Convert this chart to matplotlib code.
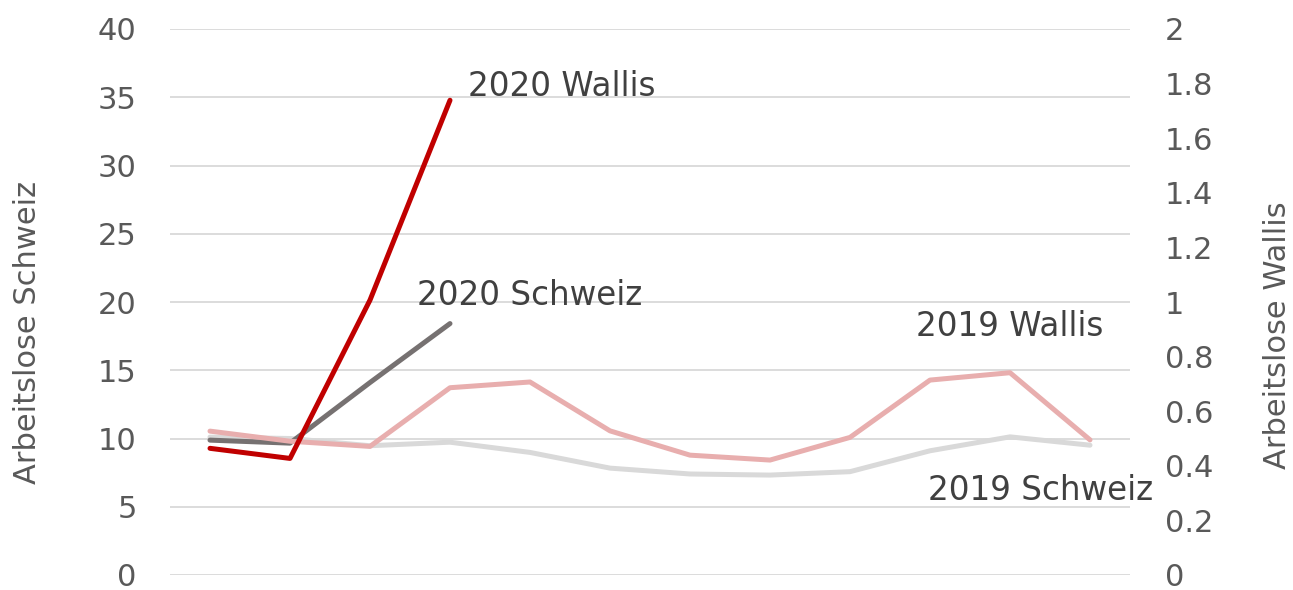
import numpy as np
import matplotlib
matplotlib.use('Agg')
import matplotlib.pyplot as plt

# Monatswerte (Jan..Dez)
months = ['Jan', 'Feb', 'Mär', 'Apr', 'Mai', 'Jun', 'Jul', 'Aug', 'Sep', 'Okt', 'Nov', 'Dez']
schweiz_2019 = [10.1, 10.0, 9.47, 9.73, 8.98, 7.83, 7.4, 7.32, 7.57, 9.1, 10.12, 9.51]
schweiz_2020 = [9.88, 9.66, 14.1, 18.42]
wallis_2019 = [0.527, 0.49, 0.471, 0.686, 0.707, 0.528, 0.439, 0.421, 0.504, 0.714, 0.741, 0.495]
wallis_2020 = [0.464, 0.427, 1.007, 1.739]

left_ticks = [0, 5, 10, 15, 20, 25, 30, 35, 40]
right_ticks = [0, 0.2, 0.4, 0.6, 0.8, 1, 1.2, 1.4, 1.6, 1.8, 2]

txt = '#404040'
tick_col = '#595959'
plt.rcParams['font.family'] = ['DejaVu Sans']

fig = plt.figure(figsize=(12.93, 5.90), dpi=100)
ax = fig.add_axes([170/1293, 15/590, 960/1293, 546/590])
ax2 = ax.twinx()

x = np.arange(len(months))
ax.plot(x, schweiz_2019, color='#D9D9D9', lw=3.6, solid_capstyle='round', zorder=2)
ax.plot(x[:len(schweiz_2020)], schweiz_2020, color='#767171', lw=3.6, solid_capstyle='round', zorder=3)
ax2.plot(x, wallis_2019, color='#E8AEAE', lw=3.6, solid_capstyle='round')
ax2.plot(x[:len(wallis_2020)], wallis_2020, color='#C00000', lw=3.6, solid_capstyle='round')

ax.set_xlim(-0.5, 11.5)
ax.set_ylim(0, 40)
ax2.set_ylim(0, 2)
ax.set_xticks([])
ax.set_yticks(left_ticks)
ax.set_yticklabels([str(t) for t in left_ticks])
ax2.set_yticks(right_ticks)
ax2.set_yticklabels(['%g' % t for t in right_ticks])

ax.grid(axis='y', color='#D9D9D9', lw=1.3)
ax.set_axisbelow(True)
for a in (ax, ax2):
    for s in a.spines.values():
        s.set_visible(False)
    a.tick_params(axis='y', length=0, labelsize=22, labelcolor=tick_col)
ax.tick_params(axis='y', pad=24)
ax2.tick_params(axis='y', pad=25)

# Achsentitel
fig.text(28/1293, 1 - 333/590, 'Arbeitslose Schweiz', rotation=90, fontsize=22,
         color=tick_col, ha='center', va='center')
fig.text(1277/1293, 1 - 335/590, 'Arbeitslose Wallis', rotation=90, fontsize=22,
         color=tick_col, ha='center', va='center')

# Beschriftungen der Linien
ax.text(3.22, 35.8, '2020 Wallis', fontsize=23.5, color=txt, va='center')
ax.text(2.59, 20.5, '2020 Schweiz', fontsize=23.5, color=txt, va='center')
ax.text(8.82, 18.2, '2019 Wallis', fontsize=23.5, color=txt, va='center')
ax.text(8.97, 6.2, '2019 Schweiz', fontsize=23.5, color=txt, va='center')

fig.savefig('out.png', dpi=100)
